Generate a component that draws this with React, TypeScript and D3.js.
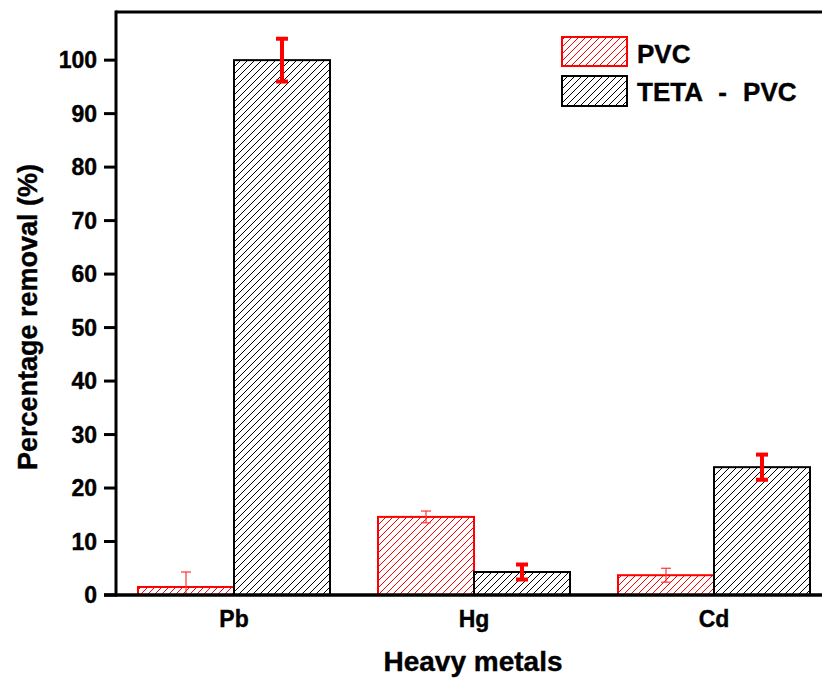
import React from "react";
import * as d3 from "d3";

const categories = ["Pb", "Hg", "Cd"];
const seriesNames = ["PVC", "TETA - PVC"];
const pvcValues = [1.5, 14.6, 3.7];
const pvcErrors = [2.8, 1.1, 1.3];
const tetaValues = [100, 4.3, 23.9];
const tetaErrors = [4.0, 1.4, 2.35];
const yTicks = [0, 10, 20, 30, 40, 50, 60, 70, 80, 90, 100];

const W = 822;
const H = 679;
const FONT = "'Liberation Sans', Arial, Helvetica, sans-serif";

export default function App() {
  const left = 116;
  const top = 12;
  const bottom = 595;
  const y = d3.scaleLinear().domain([0, 109]).range([bottom, top]);
  const x0 = d3.scaleBand<string>().domain(categories).range([114, 834]).paddingInner(0.2).paddingOuter(0.1);
  const x1 = d3.scaleBand<string>().domain(seriesNames).range([0, x0.bandwidth()]);

  const seriesData = [
    { name: seriesNames[0], values: pvcValues, errors: pvcErrors, color: "#ff0000", fill: "url(#hatchRed)", errW: 1.2, capW: 10, capH: 1.2, errColor: "#ff3333" },
    { name: seriesNames[1], values: tetaValues, errors: tetaErrors, color: "#000000", fill: "url(#hatchBlack)", errW: 4, capW: 12, capH: 4, errColor: "#ff0000" },
  ];

  const textStroke = { stroke: "#000", strokeWidth: 0.4 };

  return (
    <div style={{ position: "absolute", left: 0, top: 0 }}>
      <svg width={W} height={H} style={{ display: "block", background: "#fff" }} fontFamily={FONT}>
        <defs>
          <pattern id="hatchRed" patternUnits="userSpaceOnUse" width="7" height="7">
            <path d="M-1,1 l2,-2 M0,7 l7,-7 M6,8 l2,-2" stroke="#ff0000" strokeWidth="1" />
          </pattern>
          <pattern id="hatchBlack" patternUnits="userSpaceOnUse" width="7" height="7">
            <path d="M-1,1 l2,-2 M0,7 l7,-7 M6,8 l2,-2" stroke="#000000" strokeWidth="1" />
          </pattern>
        </defs>

        {/* bars */}
        {seriesData.map((s) =>
          categories.map((c, i) => {
            const bx = (x0(c) as number) + (x1(s.name) as number);
            const bw = x1.bandwidth();
            const by = y(s.values[i]);
            return (
              <rect
                key={s.name + c}
                x={bx}
                y={by}
                width={bw}
                height={bottom - by}
                fill={s.fill}
                stroke={s.color}
                strokeWidth={2}
              />
            );
          })
        )}

        {/* error bars */}
        {seriesData.map((s) =>
          categories.map((c, i) => {
            const cx = (x0(c) as number) + (x1(s.name) as number) + x1.bandwidth() / 2;
            const yHi = y(s.values[i] + s.errors[i]);
            const yLo = y(s.values[i] - s.errors[i]);
            const lo = Math.min(yLo, bottom);
            return (
              <g key={"e" + s.name + c} stroke={s.errColor}>
                <line x1={cx} x2={cx} y1={yHi} y2={lo} strokeWidth={s.errW} />
                <line x1={cx - s.capW / 2} x2={cx + s.capW / 2} y1={yHi} y2={yHi} strokeWidth={s.capH} />
                {yLo <= bottom && (
                  <line x1={cx - s.capW / 2} x2={cx + s.capW / 2} y1={yLo} y2={yLo} strokeWidth={s.capH} />
                )}
              </g>
            );
          })
        )}

        {/* axes frame */}
        <line x1={left} x2={W} y1={top} y2={top} stroke="#000" strokeWidth={3} />
        <line x1={left} x2={left} y1={top - 1.5} y2={bottom + 1.5} stroke="#000" strokeWidth={3} />
        <line x1={104} x2={W} y1={bottom} y2={bottom} stroke="#000" strokeWidth={3.5} />

        {/* y ticks */}
        {yTicks.map((t) => (
          <g key={"t" + t}>
            <line x1={104} x2={left} y1={y(t)} y2={y(t)} stroke="#000" strokeWidth={3} />
            <text x={97} y={y(t)} dy="0.36em" textAnchor="end" fontSize={23} fontWeight="bold" fill="#000" {...textStroke}>
              {t}
            </text>
          </g>
        ))}

        {/* x labels */}
        {categories.map((c) => (
          <text
            key={"x" + c}
            x={(x0(c) as number) + x0.bandwidth() / 2}
            y={627}
            textAnchor="middle"
            fontSize={23}
            fontWeight="bold"
            fill="#000"
            {...textStroke}
          >
            {c}
          </text>
        ))}

        {/* axis titles */}
        <text x={473} y={671} textAnchor="middle" fontSize={28} fontWeight="bold" fill="#000" {...textStroke}>
          Heavy metals
        </text>
        <text
          transform="translate(37,317) rotate(-90)"
          textAnchor="middle"
          fontSize={27}
          fontWeight="bold"
          fill="#000"
          {...textStroke}
        >
          Percentage removal (%)
        </text>

        {/* legend */}
        {seriesData.map((s, i) => (
          <g key={"l" + s.name}>
            <rect x={562} y={i === 0 ? 37 : 76} width={65} height={i === 0 ? 29 : 30} fill={s.fill} stroke={s.color} strokeWidth={2} />
            <text x={637} y={i === 0 ? 63 : 101} fontSize={26} fontWeight="bold" fill="#000" wordSpacing={9} {...textStroke}>
              {s.name}
            </text>
          </g>
        ))}
      </svg>
    </div>
  );
}
